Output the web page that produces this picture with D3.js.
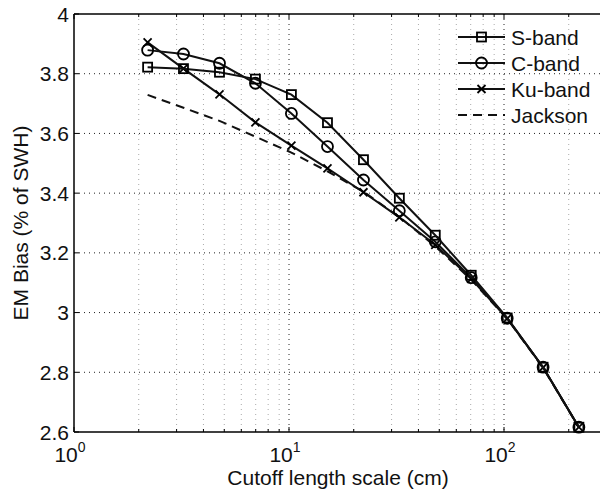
<!DOCTYPE html>
<html>
<head>
<meta charset="utf-8">
<script src="https://cdn.jsdelivr.net/npm/d3@7"></script>
<style>
  body { margin: 0; background: #fff; }
  svg { display: block; font-family: "Liberation Sans", Arial, sans-serif; }
</style>
</head>
<body>
<svg id="chart" width="600" height="493"></svg>
<script>
// ── Data ──
const cutoff = [2.2, 3.23, 4.75, 6.98, 10.26, 15.1, 22.2, 32.6, 47.9, 70.4, 103.5, 152, 223];
const sBand  = [3.822, 3.817, 3.805, 3.782, 3.730, 3.636, 3.512, 3.383, 3.259, 3.125, 2.982, 2.817, 2.616];
const cBand  = [3.879, 3.866, 3.835, 3.768, 3.667, 3.556, 3.444, 3.341, 3.237, 3.117, 2.981, 2.817, 2.616];
const kuBand = [3.905, 3.817, 3.731, 3.637, 3.559, 3.483, 3.403, 3.319, 3.227, 3.113, 2.980, 2.816, 2.616];
const jackson = [3.729, 3.686, 3.642, 3.589, 3.536, 3.473, 3.405, 3.320, 3.222, 3.110, 2.979, 2.815, 2.615];
const yTicks = [2.6, 2.8, 3, 3.2, 3.4, 3.6, 3.8, 4];
const xMajor = [1, 10, 100];
const seriesNames = ["S-band", "C-band", "Ku-band", "Jackson"];

const svg = d3.select("#chart");
const M = { l: 74, t: 14, b: 432, r: 719 };
const FS = 21;

const x = d3.scaleLog().domain([1, 1000]).range([M.l, M.r]);
const y = d3.scaleLinear().domain([2.6, 4]).range([M.b, M.t]);

// minor log positions
const xMinor = [];
[1, 10, 100].forEach(d => { for (let k = 2; k <= 9; k++) xMinor.push(d * k); });

const grid = svg.append("g");
// vertical minor grid (light)
grid.selectAll(".vmin").data(xMinor).join("line")
  .attr("x1", d => x(d)).attr("x2", d => x(d)).attr("y1", M.t).attr("y2", M.b)
  .attr("stroke", "#aaa").attr("stroke-width", 1).attr("stroke-dasharray", "1,4");
// vertical major grid
grid.selectAll(".vmaj").data(xMajor.slice(1)).join("line")
  .attr("x1", d => x(d)).attr("x2", d => x(d)).attr("y1", M.t).attr("y2", M.b)
  .attr("stroke", "#222").attr("stroke-width", 1).attr("stroke-dasharray", "1,4");
// horizontal grid
grid.selectAll(".h").data(yTicks.slice(1, -1)).join("line")
  .attr("x1", M.l).attr("x2", M.r).attr("y1", d => y(d)).attr("y2", d => y(d))
  .attr("stroke", "#222").attr("stroke-width", 1).attr("stroke-dasharray", "1,4");

// ── Axes (MATLAB style, inward ticks) ──
const ax = svg.append("g").attr("stroke", "#000");
ax.append("line").attr("x1", M.l).attr("x2", M.r).attr("y1", M.t).attr("y2", M.t).attr("stroke-width", 1.5);
ax.append("line").attr("x1", M.l).attr("x2", M.r).attr("y1", M.b).attr("y2", M.b).attr("stroke-width", 1.5);
ax.append("line").attr("x1", M.l).attr("x2", M.l).attr("y1", M.t).attr("y2", M.b).attr("stroke-width", 1.5);

xMajor.concat(xMinor).forEach(d => {
  const len = xMajor.includes(d) ? 5 : 3;
  ax.append("line").attr("x1", x(d)).attr("x2", x(d)).attr("y1", M.b).attr("y2", M.b - len).attr("stroke-width", 1);
  ax.append("line").attr("x1", x(d)).attr("x2", x(d)).attr("y1", M.t).attr("y2", M.t + len).attr("stroke-width", 1);
});
yTicks.forEach(d => {
  ax.append("line").attr("x1", M.l).attr("x2", M.l + 5).attr("y1", y(d)).attr("y2", y(d)).attr("stroke-width", 1);
});

// tick labels
svg.append("g").selectAll("text").data(yTicks).join("text")
  .attr("x", M.l - 5).attr("y", d => y(d) + 7.5)
  .attr("text-anchor", "end").attr("font-size", FS).attr("fill", "#111")
  .text(d => d3.format("~g")(d));

const xl = svg.append("g").selectAll("text").data(xMajor).join("text")
  .attr("x", d => x(d) - 4).attr("y", 462)
  .attr("text-anchor", "middle").attr("font-size", FS).attr("fill", "#111");
xl.append("tspan").text("10");
xl.append("tspan").attr("dy", -10).attr("font-size", 14).text(d => Math.round(Math.log10(d)));

// axis titles
svg.append("text").attr("x", 338).attr("y", 485).attr("text-anchor", "middle")
  .attr("font-size", FS).attr("fill", "#111").text("Cutoff length scale (cm)");
svg.append("text").attr("transform", `translate(28,${(M.t + M.b) / 2}) rotate(-90)`)
  .attr("text-anchor", "middle").attr("font-size", FS).attr("fill", "#111").text("EM Bias (% of SWH)");

// ── Series ──
const line = d3.line().x(d => x(d[0])).y(d => y(d[1]));
const zip = vals => cutoff.map((c, i) => [c, vals[i]]);
const plot = svg.append("g");

function marker(g, type, cx, cy) {
  if (type === "square") {
    g.append("rect").attr("x", cx - 4.5).attr("y", cy - 4.5).attr("width", 9).attr("height", 9)
      .attr("fill", "none").attr("stroke", "#000").attr("stroke-width", 1.8);
  } else if (type === "circle") {
    g.append("circle").attr("cx", cx).attr("cy", cy).attr("r", 5.5)
      .attr("fill", "none").attr("stroke", "#000").attr("stroke-width", 1.8);
  } else if (type === "x") {
    const s = 4;
    g.append("path").attr("d", `M${cx - s},${cy - s}L${cx + s},${cy + s}M${cx - s},${cy + s}L${cx + s},${cy - s}`)
      .attr("stroke", "#000").attr("stroke-width", 1.8);
  }
}

const series = [
  { name: seriesNames[0], vals: sBand, m: "square" },
  { name: seriesNames[1], vals: cBand, m: "circle" },
  { name: seriesNames[2], vals: kuBand, m: "x" },
  { name: seriesNames[3], vals: jackson, m: null, dash: "9,6" }
];

series.slice().reverse().forEach(s => {
  plot.append("path").datum(zip(s.vals)).attr("d", line)
    .attr("fill", "none").attr("stroke", "#111").attr("stroke-width", 2)
    .attr("stroke-dasharray", s.dash || null);
  if (s.m) zip(s.vals).forEach(p => marker(plot, s.m, x(p[0]), y(p[1])));
});

// ── Legend ──
const lg = svg.append("g");
series.forEach((s, i) => {
  const cy = 37 + i * 26;
  lg.append("line").attr("x1", 458).attr("x2", 505).attr("y1", cy).attr("y2", cy)
    .attr("stroke", "#111").attr("stroke-width", 2).attr("stroke-dasharray", s.dash || null);
  if (s.m) marker(lg, s.m, 481.5, cy);
  lg.append("text").attr("x", 511).attr("y", cy + 7.5).attr("font-size", FS).attr("fill", "#111").text(s.name);
});
</script>
</body>
</html>
